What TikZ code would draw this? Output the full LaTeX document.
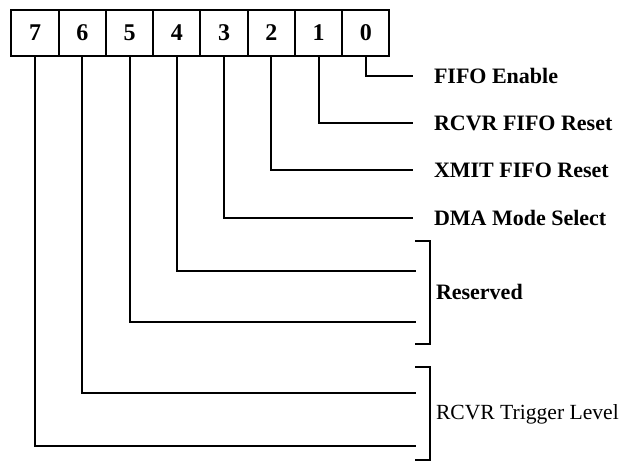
\documentclass[tikz,border=0pt]{standalone}
\usepackage{fontspec}
\setmainfont{Liberation Serif}
\usepackage{tikz}
\usetikzlibrary{positioning}

\begin{document}
\begin{tikzpicture}[x=0.5pt, y=-0.5pt, line width=1pt,
  font=\fontsize{11}{13}\selectfont,
  bitbox/.style={draw, minimum width=23.6pt, minimum height=23pt, inner sep=0pt, font=\fontsize{12}{14}\selectfont\bfseries},
  lbl/.style={anchor=west, inner sep=0pt, font=\fontsize{11}{13}\selectfont\bfseries}]
\useasboundingbox (0,0) rectangle (622,466);

% register bits
\foreach \i in {0,...,7} {
  \node[bitbox] (b\i) at ({35+47.25*(7-\i)},33) {\i};
}

% single-bit fields
\node[lbl] (l0) at (433,76) {FIFO Enable};
\node[lbl] (l1) at (433,123) {RCVR FIFO Reset};
\node[lbl] (l2) at (433,170) {XMIT FIFO Reset};
\node[lbl] (l3) at (433,218) {DMA Mode Select};
\foreach \i in {0,...,3} {
  \draw (b\i.south) |- ([xshift=-10pt]l\i.west);
}

% reserved bits
\coordinate (e4) at (416,271);
\coordinate (e5) at (416,322);
\draw (b4.south) |- (e4);
\draw (b5.south) |- (e5);
\draw (415,241) -- (430,241) -- (430,344) -- (415,344);
\node[lbl] (res) at (435,292) {Reserved};

% trigger level
\coordinate (e6) at (416,393);
\coordinate (e7) at (416,446);
\draw (b6.south) |- (e6);
\draw (b7.south) |- (e7);
\draw (415,367) -- (430,367) -- (430,460) -- (415,460);
\node[lbl, font=\fontsize{10.8}{13}\selectfont] (trig) at (435,414) {RCVR Trigger Level};

\end{tikzpicture}
\end{document}
